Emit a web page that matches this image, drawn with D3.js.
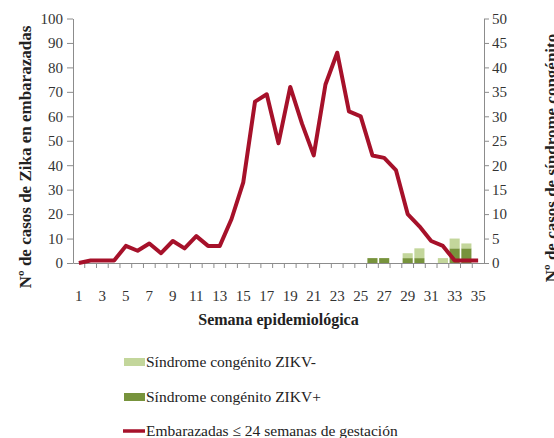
<!DOCTYPE html>
<html>
<head>
<meta charset="utf-8">
<script src="https://cdnjs.cloudflare.com/ajax/libs/d3/7.8.5/d3.min.js"></script>
<style>
	body { margin: 0; background: #fff; }
	svg, svg text, .axis, .axis text { font-family: 'Liberation Serif', 'DejaVu Serif', serif !important; }
	svg text { fill: #222; }
	.axis path, .axis line { stroke: #8c8c8c; }
	.axis text { font-size: 15px; fill: #333; }
</style>
</head>
<body>
<main></main>
<script>

var weeks = d3.range(1, 36);

// embarazadas <= 24 semanas (eje izquierdo)
var pregnant = [0, 1, 1, 1, 7, 5, 8, 4, 9, 6, 11, 7, 7, 18, 33, 66, 69, 49, 72, 57,
	44, 73, 86, 62, 60, 44, 43, 38, 20, 15, 9, 7, 1, 1, 1];

// sindrome congenito (eje derecho)
var zikvPos = [0, 0, 0, 0, 0, 0, 0, 0, 0, 0, 0, 0, 0, 0, 0, 0, 0, 0, 0, 0,
	0, 0, 0, 0, 0, 1, 1, 0, 1, 1, 0, 0, 3, 3, 0];
var zikvNeg = [0, 0, 0, 0, 0, 0, 0, 0, 0, 0, 0, 0, 0, 0, 0, 0, 0, 0, 0, 0,
	0, 0, 0, 0, 0, 0, 0, 0, 1, 2, 0, 1, 2, 1, 0];

var leftTicks = d3.range(0, 101, 10);
var rightTicks = d3.range(0, 51, 5);

var legendLabels = ["Síndrome congénito ZIKV-", "Síndrome congénito ZIKV+", "Embarazadas ≤ 24 semanas de gestación"];

var svg = d3.select("main").append("svg").attr("width", 554).attr("height", 438);

var x = d3.scaleBand()
	.domain(weeks)
	.range([73, 484]);

var yLeft = d3.scaleLinear().domain([0, 100]).range([263, 18.5]);
var yRight = d3.scaleLinear().domain([0, 50]).range([263, 18.5]);

var colors = {
	neg: "#c3d69b",
	pos: "#77933c",
	line: "#a6112a"
};

// bars
var rows = weeks.map((w, i) => ({week: w, pos: zikvPos[i], neg: zikvNeg[i]}));
var stack = d3.stack().keys(["pos", "neg"])(rows);

var barW = x.bandwidth() * 0.86;

svg.append("g")
	.selectAll("g")
	.data(stack)
	.enter().append("g")
		.attr("fill", d => colors[d.key])
	.selectAll("rect")
	.data(d => d.filter(p => p[1] > p[0]))
	.enter().append("rect")
		.attr("x", d => x(d.data.week) + (x.bandwidth() - barW) / 2)
		.attr("y", d => yRight(d[1]))
		.attr("width", barW)
		.attr("height", d => yRight(d[0]) - yRight(d[1]));

// axes
svg.append("g")
	.attr("class", "axis")
	.attr("transform", "translate(73,0)")
	.call(d3.axisLeft(yLeft).tickValues(leftTicks).tickSize(6).tickSizeOuter(0).tickPadding(4));

svg.append("g")
	.attr("class", "axis")
	.attr("transform", "translate(484,0)")
	.call(d3.axisRight(yRight).tickValues(rightTicks).tickSize(5).tickSizeOuter(0).tickPadding(3));

var xAxis = svg.append("g")
	.attr("class", "axis")
	.attr("transform", "translate(0,263)")
	.call(d3.axisBottom(x).tickSize(0).tickSizeOuter(0).tickPadding(27)
		.tickFormat(d => d % 2 ? d : ""));

// tick marks between categories
xAxis.selectAll(".sep")
	.data(weeks.slice(1))
	.enter().append("line")
		.attr("class", "sep")
		.attr("x1", d => x(d))
		.attr("x2", d => x(d))
		.attr("y1", 0)
		.attr("y2", 5);

svg.selectAll(".axis").attr("font-family", null);

// line
var line = d3.line()
	.x((d, i) => x(weeks[i]) + x.bandwidth() / 2)
	.y(d => yLeft(d));

svg.append("path")
	.datum(pregnant)
	.attr("fill", "none")
	.attr("stroke", colors.line)
	.attr("stroke-width", 4)
	.attr("stroke-linejoin", "round")
	.attr("d", line);

// axis titles
svg.append("text")
	.attr("transform", "translate(31,157) rotate(-90)")
	.attr("text-anchor", "middle")
	.style("font-size", "17px")
	.style("font-weight", "bold")
	.text("Nº de casos de Zika en embarazadas");

svg.append("text")
	.attr("transform", "translate(557,158) rotate(-90)")
	.attr("text-anchor", "middle")
	.style("font-size", "17px")
	.style("font-weight", "bold")
	.text("Nº de casos de síndrome congénito");

svg.append("text")
	.attr("x", 278.5)
	.attr("y", 325)
	.attr("text-anchor", "middle")
	.style("font-size", "16px")
	.style("font-weight", "bold")
	.text("Semana epidemiológica");

// legend
var legend = svg.append("g");
var legendY = [362, 397, 431];

legend.append("rect").attr("x", 124).attr("y", legendY[0] - 4).attr("width", 21).attr("height", 8).attr("fill", colors.neg);
legend.append("rect").attr("x", 124).attr("y", legendY[1] - 4).attr("width", 21).attr("height", 8).attr("fill", colors.pos);
legend.append("line").attr("x1", 123).attr("x2", 145).attr("y1", legendY[2]).attr("y2", legendY[2])
	.attr("stroke", colors.line).attr("stroke-width", 3.5);

legend.selectAll("text")
	.data(legendLabels)
	.enter().append("text")
		.attr("x", 146)
		.attr("y", (d, i) => legendY[i] + 5)
		.style("font-size", "15.5px")
		.text(d => d);

</script>
</body>
</html>
